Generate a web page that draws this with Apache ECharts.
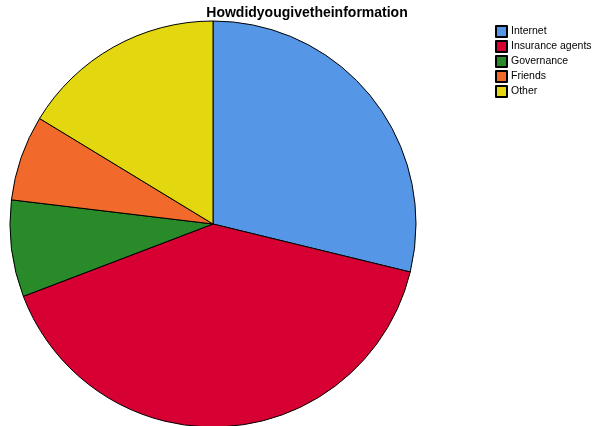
<!DOCTYPE html>
<html><head><meta charset="utf-8">
<script src="https://cdn.jsdelivr.net/npm/echarts@6/dist/echarts.min.js"></script>
<style>html,body{margin:0;padding:0;background:#fff}#c{width:597px;height:426px}</style>
</head><body><div id="c"></div>
<script>
var categories = ["Internet", "Insurance agents", "Governance", "Friends", "Other"];
var values = [28.8, 40.4, 7.7, 6.8, 16.3];
var colors = ["#5596e6", "#d60032", "#298a29", "#f26a2b", "#e3d80f"];

var chart = echarts.init(document.getElementById('c'), null, {renderer: 'canvas'});
chart.setOption({
  animation: false,
  backgroundColor: '#ffffff',
  title: {
    text: 'Howdidyougivetheinformation',
    left: 307, top: 6, padding: 0, textAlign: 'center',
    textStyle: {fontFamily: 'Liberation Sans', fontSize: 14, fontWeight: 'bold', color: '#000'}
  },
  legend: {
    orient: 'vertical', left: 495, top: 25, padding: 0,
    itemWidth: 11, itemHeight: 11, itemGap: 2,
    icon: 'rect',
    textStyle: {fontFamily: 'Liberation Sans', fontSize: 10.5, color: '#000', padding: [0,0,0,-1]},
    data: categories
  },
  series: [{
    type: 'pie',
    center: [213, 224], radius: 203,
    startAngle: 90, clockwise: true,
    label: {show: false}, labelLine: {show: false},
    emphasis: {disabled: true},
    itemStyle: {borderColor: '#000', borderWidth: 1},
    data: categories.map(function (c, i) {
      return {name: c, value: values[i], itemStyle: {color: colors[i]}};
    })
  }]
});
</script></body></html>
